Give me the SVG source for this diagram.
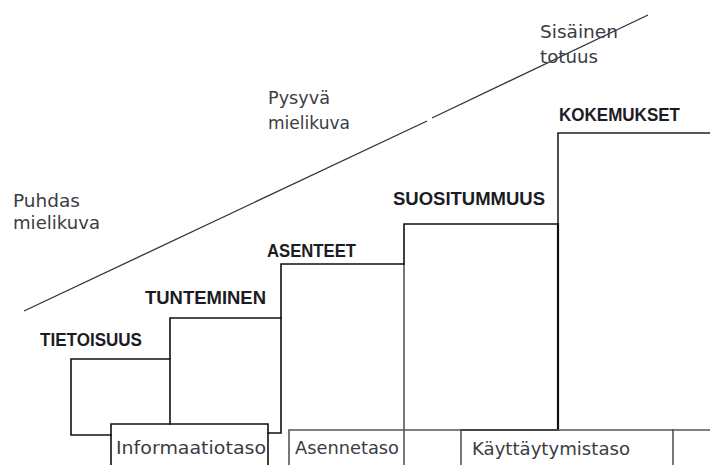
<svg xmlns="http://www.w3.org/2000/svg" width="710" height="465" viewBox="0 0 710 465">
<style>
.st{fill:none;stroke:#111;stroke-width:1.6;stroke-linecap:square}
.gr{fill:none;stroke:#555;stroke-width:1.6}
.dg{fill:none;stroke:#333;stroke-width:1.3}
.b{font-family:"Liberation Sans",Arial,sans-serif;font-weight:bold;font-size:18px;fill:#1c1c24}
.r{font-family:"DejaVu Sans","Open Sans",sans-serif;font-size:17.5px;fill:#3c3c44}
</style>
<rect width="710" height="465" fill="#fff"/>
<g id="connectors">
<path class="dg" d="M24,311 L427,121"/>
<path class="dg" d="M432,118 L648,15"/>
</g>
<g id="tietoisuus">
<path class="st" d="M111,435 H71 V359 H170"/>
<text class="b" x="40" y="346" textLength="102" lengthAdjust="spacingAndGlyphs">TIETOISUUS</text>
</g>
<g id="tunteminen">
<path class="st" d="M170,424 V318 H281 V433 H268"/>
<text class="b" x="145" y="304" textLength="121" lengthAdjust="spacingAndGlyphs">TUNTEMINEN</text>
</g>
<g id="asenteet">
<path class="st" d="M281,318 V264 H404"/>
<path class="gr" d="M404,264 V465"/>
<text class="b" x="267" y="257" textLength="89" lengthAdjust="spacingAndGlyphs">ASENTEET</text>
</g>
<g id="suositummuus">
<path class="st" d="M404,264 V224 H558"/>
<path class="st" d="M558,224 V430 H461" style="stroke-width:2.2"/>
<text class="b" x="393" y="205" textLength="152" lengthAdjust="spacingAndGlyphs">SUOSITUMMUUS</text>
</g>
<g id="kokemukset">
<path class="st" d="M558,224 V133 H710" style="stroke:#222"/>
<text class="b" x="559" y="121" textLength="121" lengthAdjust="spacingAndGlyphs">KOKEMUKSET</text>
</g>
<g id="informaatiotaso">
<path class="st" d="M111,466 V424 H268 V466"/>
<text class="r" x="116" y="454" textLength="150" lengthAdjust="spacingAndGlyphs">Informaatiotaso</text>
</g>
<g id="asennetaso">
<path class="gr" d="M289,466 V430 H710"/>
<text class="r" x="295" y="454" textLength="104" lengthAdjust="spacingAndGlyphs">Asennetaso</text>
</g>
<g id="kayttaytymistaso">
<path class="gr" d="M461,466 V430"/>
<path class="gr" d="M673,466 V429"/>
<text class="r" x="472" y="455" textLength="158" lengthAdjust="spacingAndGlyphs">Käyttäytymistaso</text>
</g>
<g id="puhdas">
<text class="r" x="13" y="207" textLength="67" lengthAdjust="spacingAndGlyphs">Puhdas</text>
<text class="r" x="13" y="229" textLength="87" lengthAdjust="spacingAndGlyphs">mielikuva</text>
</g>
<g id="pysyva">
<text class="r" x="268" y="104" textLength="62" lengthAdjust="spacingAndGlyphs">Pysyvä</text>
<text class="r" x="268" y="129" textLength="82" lengthAdjust="spacingAndGlyphs">mielikuva</text>
</g>
<g id="sisainen">
<text class="r" x="540" y="38" textLength="78" lengthAdjust="spacingAndGlyphs">Sisäinen</text>
<text class="r" x="540" y="63" textLength="58" lengthAdjust="spacingAndGlyphs">totuus</text>
</g>
</svg>
